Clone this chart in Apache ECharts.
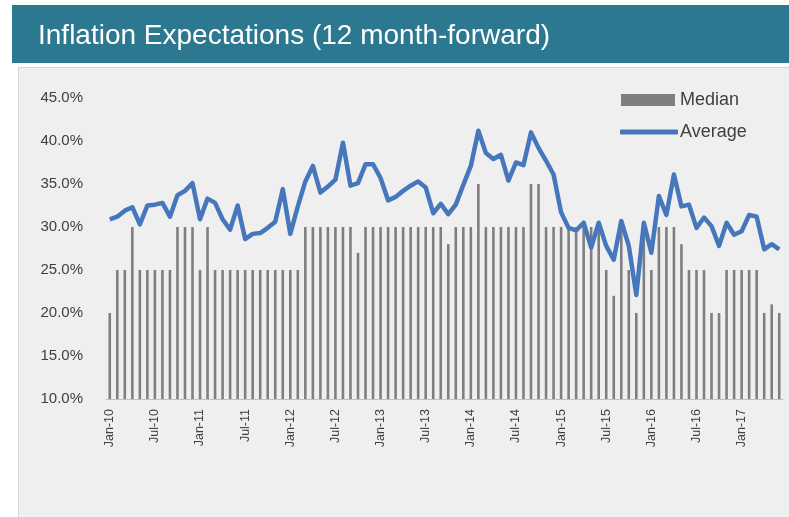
<!DOCTYPE html>
<html>
<head>
<meta charset="utf-8">
<script src="https://cdn.jsdelivr.net/npm/echarts@6/dist/echarts.min.js"></script>
<style>
  html, body, #main { width: 789px; height: 517px; margin: 0; background: #fff; }
</style>
</head>
<body>
<div id="main"></div>
<script>
// monthly, Jan-10 .. Jun-17
var months = ['Jan', 'Feb', 'Mar', 'Apr', 'May', 'Jun', 'Jul', 'Aug', 'Sep', 'Oct', 'Nov', 'Dec']
var categories = []
for (var y = 10; y <= 17; y++) {
  for (var m = 0; m < 12; m++) {
    if (y === 17 && m > 5) break
    categories.push(months[m] + '-' + y)
  }
}

var median = [
  20, 25, 25, 30, 25, 25, 25, 25, 25, 30, 30, 30,
  25, 30, 25, 25, 25, 25, 25, 25, 25, 25, 25, 25,
  25, 25, 30, 30, 30, 30, 30, 30, 30, 27, 30, 30,
  30, 30, 30, 30, 30, 30, 30, 30, 30, 28, 30, 30,
  30, 35, 30, 30, 30, 30, 30, 30, 35, 35, 30, 30,
  30, 30, 30, 30, 30, 30, 25, 22, 30, 25, 20, 30,
  25, 30, 30, 30, 28, 25, 25, 25, 20, 20, 25, 25,
  25, 25, 25, 20, 21, 20
]

var average = [
  30.9, 31.2, 31.9, 32.3, 30.3, 32.5, 32.6, 32.8, 31.2, 33.7, 34.2, 35.1,
  30.9, 33.3, 32.8, 30.9, 29.7, 32.5, 28.6, 29.2, 29.3, 29.9, 30.6, 34.4,
  29.2, 32.4, 35.3, 37.1, 34.0, 34.7, 35.5, 39.8, 34.8, 35.1, 37.3, 37.3,
  35.7, 33.1, 33.5, 34.2, 34.8, 35.3, 34.6, 31.6, 32.7, 31.5, 32.6, 34.9,
  37.1, 41.2, 38.6, 37.9, 38.4, 35.4, 37.5, 37.2, 41.0, 39.2, 37.7, 36.1,
  31.7, 29.9, 29.6, 30.5, 27.6, 30.5, 27.8, 26.2, 30.7, 27.8, 22.1, 30.5,
  27.0, 33.6, 31.4, 36.1, 32.4, 32.6, 29.9, 31.1, 30.1, 27.8, 30.5, 29.1,
  29.5, 31.4, 31.2, 27.4, 28.0, 27.4
]

var chart = echarts.init(document.getElementById('main'))

var font = '"Liberation Sans", Arial, sans-serif'

var option = {
  animation: false,
  backgroundColor: '#ffffff',
  graphic: [
    { type: 'rect', shape: { x: 12, y: 5, width: 777, height: 58 }, style: { fill: '#2c7890' }, z: -10 },
    { type: 'rect', shape: { x: 18.5, y: 67.5, width: 775, height: 460 }, style: { fill: '#efefef', stroke: '#d4d4d4', lineWidth: 1 }, z: -10 }
  ],
  title: {
    text: 'Inflation Expectations (12 month-forward)',
    left: 33,
    top: 17,
    textStyle: { color: '#ffffff', fontFamily: font, fontSize: 28, fontWeight: 'normal' }
  },
  legend: [
    {
      data: ['Median'],
      left: 621, top: 91, padding: 0,
      icon: 'rect', itemWidth: 54, itemHeight: 12,
      textStyle: { fontFamily: font, fontSize: 18, color: '#404040' }
    },
    {
      data: [{ name: 'Average', icon: 'roundRect' }],
      left: 620, top: 123, padding: 0,
      itemWidth: 58, itemHeight: 5,
      textStyle: { fontFamily: font, fontSize: 18, color: '#404040', padding: [0, 0, 0, -3] }
    }
  ],
  grid: { left: 106, right: 6, top: 98, bottom: 118, containLabel: false },
  xAxis: {
    type: 'category',
    data: categories,
    axisLine: { lineStyle: { color: '#bfbfbf' } },
    axisTick: { interval: 5, length: 5, lineStyle: { color: '#bfbfbf' } },
    axisLabel: { interval: 5, rotate: 90, margin: 10, color: '#404040', fontFamily: font, fontSize: 12.5 }
  },
  yAxis: {
    type: 'value',
    min: 10, max: 45, interval: 5,
    axisLine: { show: false },
    axisTick: { show: false },
    splitLine: { show: false },
    axisLabel: {
      margin: 23,
      color: '#404040', fontFamily: font, fontSize: 15,
      formatter: function (v) { return v.toFixed(1) + '%' }
    }
  },
  series: [
    {
      name: 'Median', type: 'bar', data: median,
      barWidth: 2.6,
      itemStyle: { color: '#7f7f7f' }
    },
    {
      name: 'Average', type: 'line', data: average,
      symbol: 'none',
      lineStyle: { color: '#4677bd', width: 4.5, join: 'round' },
      itemStyle: { color: '#4677bd' }
    }
  ]
}
chart.setOption(option)
</script>
</body>
</html>
